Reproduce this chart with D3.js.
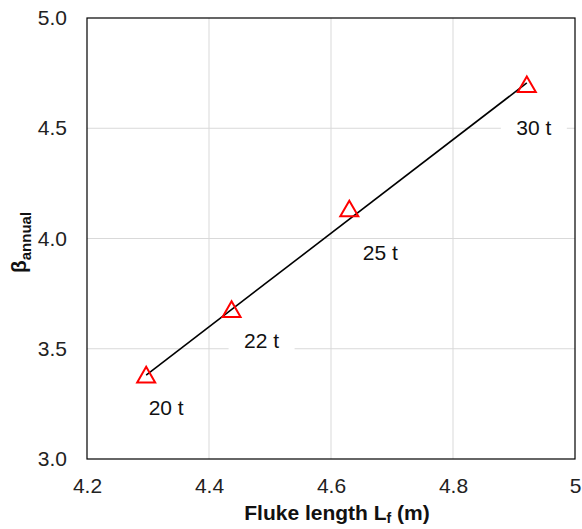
<!DOCTYPE html>
<html>
<head>
<meta charset="utf-8">
<script src="https://cdn.jsdelivr.net/npm/d3@7"></script>
<style>
  body { margin: 0; background: #fff; }
  svg { font-family: "Liberation Sans", Arial, sans-serif; }
</style>
</head>
<body>
<div id="chart"></div>
<script>
// values
var flukeLength = [4.297, 4.437, 4.630, 4.921];
var betaAnnual = [3.371, 3.668, 4.124, 4.688];
var massLabels = ["20 t", "22 t", "25 t", "30 t"];
var xTicks = [4.2, 4.4, 4.6, 4.8, 5.0];
var yTicks = [3.0, 3.5, 4.0, 4.5, 5.0];

// label placement relative to marker (px)
var labelOffsets = [[20, 30], [30, 29], [31, 41], [7, 41]];

var W = 582, H = 529;
var m = { left: 87, right: 7, top: 18, bottom: 70 };

var svg = d3.select("#chart").append("svg")
    .attr("width", W).attr("height", H);

var x = d3.scaleLinear().domain([4.2, 5.0]).range([m.left, W - m.right]);
var y = d3.scaleLinear().domain([3.0, 5.0]).range([H - m.bottom, m.top]);

// gridlines
svg.append("g").selectAll("line.gx").data(xTicks.slice(1, -1)).enter()
    .append("line")
    .attr("x1", function (d) { return x(d); }).attr("x2", function (d) { return x(d); })
    .attr("y1", y(3)).attr("y2", y(5))
    .attr("stroke", "#d9d9d9").attr("stroke-width", 1);
svg.append("g").selectAll("line.gy").data(yTicks.slice(1, -1)).enter()
    .append("line")
    .attr("y1", function (d) { return y(d); }).attr("y2", function (d) { return y(d); })
    .attr("x1", x(4.2)).attr("x2", x(5.0))
    .attr("stroke", "#d9d9d9").attr("stroke-width", 1);

// axes (labels only, frame drawn separately)
var xAxis = svg.append("g").attr("transform", "translate(0," + y(3) + ")")
    .call(d3.axisBottom(x).tickValues(xTicks).tickSize(0).tickPadding(19)
        .tickFormat(function (d) { return d === 5 ? "5" : d3.format(".1f")(d); }));
var yAxis = svg.append("g").attr("transform", "translate(" + x(4.2) + ",0)")
    .call(d3.axisLeft(y).tickValues(yTicks).tickSize(0).tickPadding(20)
        .tickFormat(d3.format(".1f")));
[xAxis, yAxis].forEach(function (a) {
    a.select(".domain").remove();
    a.selectAll("text").attr("font-size", 21).attr("fill", "#222")
        .attr("font-family", "Liberation Sans, Arial, sans-serif");
});

// linear trend line through the points
var mx = d3.mean(flukeLength), my = d3.mean(betaAnnual);
var sxy = d3.sum(flukeLength, function (v, i) { return (v - mx) * (betaAnnual[i] - my); });
var sxx = d3.sum(flukeLength, function (v) { return (v - mx) * (v - mx); });
var slope = sxy / sxx, icpt = my - slope * mx;
var xe = d3.extent(flukeLength);
svg.append("line")
    .attr("x1", x(xe[0])).attr("y1", y(icpt + slope * xe[0]))
    .attr("x2", x(xe[1])).attr("y2", y(icpt + slope * xe[1]))
    .attr("stroke", "#000").attr("stroke-width", 1.6);

// point labels with white boxes
var lab = svg.append("g").selectAll("g").data(flukeLength).enter().append("g")
    .attr("transform", function (d, i) {
        return "translate(" + (x(d) + labelOffsets[i][0]) + "," + (y(betaAnnual[i]) + labelOffsets[i][1]) + ")";
    });
lab.append("rect").attr("x", -33).attr("y", -13).attr("width", 66).attr("height", 26)
    .attr("fill", "#fff");
lab.append("text").attr("text-anchor", "middle").attr("dy", "0.36em")
    .attr("font-size", 21).attr("fill", "#111")
    .text(function (d, i) { return massLabels[i]; });

// markers
svg.append("g").selectAll("path").data(flukeLength).enter().append("path")
    .attr("d", d3.symbol().type(d3.symbolTriangle).size(140))
    .attr("transform", function (d, i) { return "translate(" + x(d) + "," + y(betaAnnual[i]) + ")"; })
    .attr("fill", "none").attr("stroke", "#ff0000").attr("stroke-width", 2);

// plot frame
svg.append("rect")
    .attr("x", x(4.2)).attr("y", y(5)).attr("width", x(5) - x(4.2)).attr("height", y(3) - y(5))
    .attr("fill", "none").attr("stroke", "#000").attr("stroke-width", 1.2);

// axis titles
var xt = svg.append("text").attr("x", (x(4.2) + x(5)) / 2 + 6).attr("y", 520)
    .attr("text-anchor", "middle").attr("font-size", 21).attr("font-weight", "bold").attr("fill", "#111");
xt.append("tspan").text("Fluke length L");
xt.append("tspan").attr("font-size", 14).attr("dy", 3).text("f");
xt.append("tspan").attr("dy", -3).text(" (m)");

var yt = svg.append("text").attr("transform", "translate(26," + (y(4) + 4) + ") rotate(-90)")
    .attr("text-anchor", "middle").attr("font-size", 21).attr("font-weight", "bold").attr("fill", "#111");
yt.append("tspan").text("β");
yt.append("tspan").attr("font-size", 15).attr("dy", 5).text("annual");
</script>
</body>
</html>
